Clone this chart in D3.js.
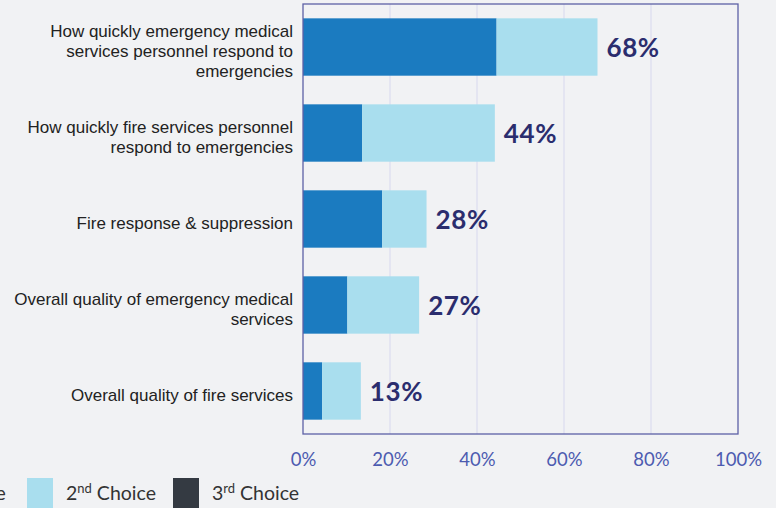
<!DOCTYPE html>
<html><head><meta charset="utf-8">
<script src="https://cdn.jsdelivr.net/npm/d3@7/dist/d3.min.js"></script>
<style>
html,body{margin:0;padding:0;background:#f1f2f4;}
svg{display:block;}
</style></head>
<body>
<svg id="c" width="776" height="508"></svg>
<script>
const categories = [
  "How quickly emergency medical\nservices personnel respond to\nemergencies",
  "How quickly fire services personnel\nrespond to emergencies",
  "Fire response & suppression",
  "Overall quality of emergency medical\nservices",
  "Overall quality of fire services"
];
const firstChoice  = [44.5, 13.6, 18.2, 10.2, 4.4];
const secondChoice = [23.2, 30.5, 10.2, 16.5, 8.9];
const thirdChoice  = [0, 0, 0, 0, 0];
const totalLabels  = ["68%", "44%", "28%", "27%", "13%"];
const xTicks = [0, 20, 40, 60, 80, 100];
const seriesNames = [["1","st"," Choice"],["2","nd"," Choice"],["3","rd"," Choice"]];
const colors = ["#1b7bc0", "#a9deee", "#343a42"];

const svg = d3.select("#c");
const m = {left: 303, right: 38, top: 4, bottom: 74};
const W = 776, H = 508;

const x = d3.scaleLinear().domain([0, 100]).range([m.left, W - m.right]);
const y = d3.scaleBand().domain(d3.range(categories.length))
  .range([m.top, H - m.bottom]).paddingInner(0.333).paddingOuter(0.1667);

// grid
svg.append("g").selectAll("line").data(xTicks.slice(1, -1)).join("line")
  .attr("x1", d => x(d)).attr("x2", d => x(d))
  .attr("y1", m.top).attr("y2", H - m.bottom)
  .attr("stroke", "#dcdcee").attr("stroke-width", 1.2);

// stacked data
const rows = categories.map((c, i) => ({i, vals: [firstChoice[i], secondChoice[i], thirdChoice[i]]}));
const stack = d3.stack().keys([0,1,2]).value((d, k) => d.vals[k]);
const series = stack(rows);

svg.append("g").selectAll("g").data(series).join("g")
  .attr("fill", (d, k) => colors[k])
  .selectAll("rect").data(d => d).join("rect")
  .attr("x", d => x(d[0]))
  .attr("width", d => Math.max(0, x(d[1]) - x(d[0])))
  .attr("y", d => y(d.data.i))
  .attr("height", y.bandwidth());

// plot border
svg.append("rect")
  .attr("x", x(0)).attr("y", m.top)
  .attr("width", x(100) - x(0)).attr("height", H - m.bottom - m.top)
  .attr("fill", "none").attr("stroke", "#5d60a6").attr("stroke-width", 1.3);

// value labels
svg.append("g").selectAll("text").data(rows).join("text")
  .attr("x", d => x(d.vals[0] + d.vals[1] + d.vals[2]) + 9)
  .attr("y", d => y(d.i) + y.bandwidth() / 2 + 1)
  .attr("dy", "0.36em")
  .attr("font-family", "Lato, sans-serif").attr("font-weight", "bold")
  .attr("font-size", 26).attr("letter-spacing", 0.6).attr("fill", "#2b2d6e")
  .text(d => totalLabels[d.i]);

// category labels
const lh = 20;
svg.append("g").selectAll("text").data(categories).join("text")
  .attr("text-anchor", "end")
  .attr("font-family", "'Liberation Sans', Arial, sans-serif")
  .attr("font-size", 17).attr("fill", "#222")
  .each(function(c, i) {
    const lines = c.split("\n");
    const cy = y(i) + y.bandwidth() / 2 + 4;
    const t = d3.select(this);
    lines.forEach((ln, j) => {
      t.append("tspan").attr("x", 293)
        .attr("y", cy + (j - (lines.length - 1) / 2) * lh)
        .attr("dy", "0.35em").text(ln);
    });
  });

// x axis
const ax = svg.append("g").attr("transform", `translate(0,${H - m.bottom})`)
  .call(d3.axisBottom(x).tickValues(xTicks).tickFormat(d => d + "%").tickSize(0).tickPadding(19));
ax.select(".domain").remove();
ax.selectAll("text").attr("font-family", "Lato, sans-serif").attr("font-size", 18.5)
  .attr("fill", "#4c5bb0");

// legend
const legX = [-119, 27, 173];
const lg = svg.append("g");
seriesNames.forEach((s, k) => {
  lg.append("rect").attr("x", legX[k]).attr("y", 478).attr("width", 26).attr("height", 32)
    .attr("fill", colors[k]);
  const t = lg.append("text").attr("x", legX[k] + 39).attr("y", 500)
    .attr("font-family", "Lato, sans-serif").attr("font-size", 19.5).attr("fill", "#333");
  t.append("tspan").text(s[0]);
  t.append("tspan").attr("font-size", 13).attr("dy", -7).text(s[1]);
  t.append("tspan").attr("dy", 7).text(s[2]);
});
</script>
</body></html>
